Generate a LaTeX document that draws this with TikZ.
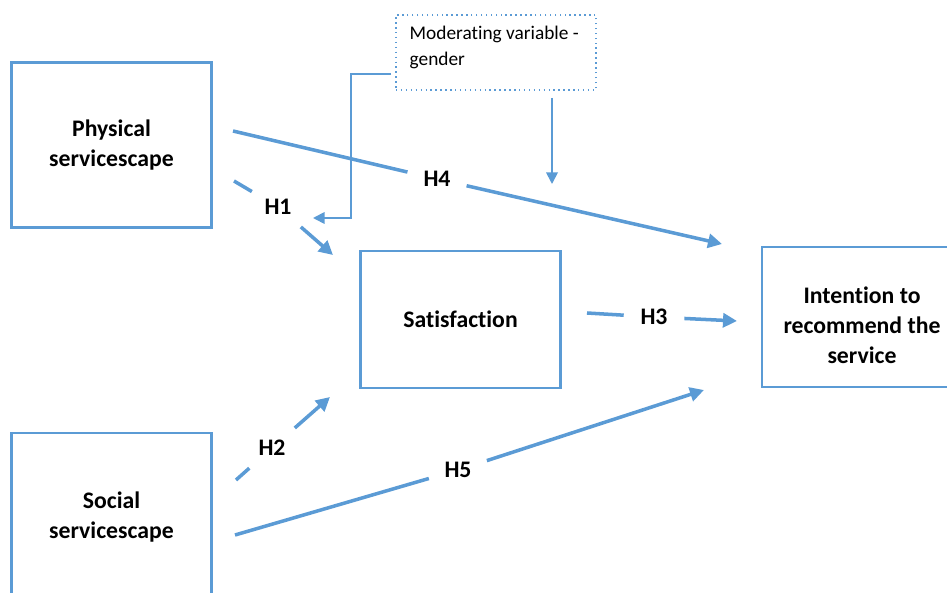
\documentclass[tikz,border=0pt]{standalone}
\usepackage{fontspec}
\setmainfont{Carlito}[Ligatures=NoCommon]
\usetikzlibrary{arrows.meta}
\definecolor{lineblue}{RGB}{91,155,213}

\begin{document}
\begin{tikzpicture}[x=0.2mm,y=-0.2mm]
\tikzset{
  varbox/.style={draw=lineblue,line width=1.4pt,minimum width=4cm,align=center,
    font=\bfseries\fontsize{13.5}{17}\selectfont},
  vartext/.style={align=center,font=\bfseries\fontsize{13.5}{17}\selectfont},
  hyp/.style={circle,minimum size=1.2cm,inner sep=0pt,
    font=\bfseries\fontsize{13.5}{17}\selectfont},
  hline/.style={draw=lineblue,line width=2pt},
  harrow/.style={hline,-{Triangle[length=2.8mm,width=2.8mm]}},
  modbox/.style={draw=lineblue,dotted,line width=0.8pt,minimum width=4cm,minimum height=1.5cm},
  modline/.style={draw=lineblue,line width=1pt},
  modarrow/.style={modline,-{Triangle[length=2.3mm,width=2.3mm]}}
}
\useasboundingbox (0,0) rectangle (947,593);
\clip (0,0) rectangle (947,593);

% variables
\node[varbox,minimum height=3.3cm] (phys) at (111.5,145) {Physical\\servicescape};
\node[varbox,minimum height=3.36cm] (social) at (111.5,517) {Social\\servicescape};
\node[varbox,minimum height=2.74cm] (sat) at (460.5,319.5) {Satisfaction};
\node[varbox,minimum height=2.8cm] (intent) at (862,317) {};
\node[vartext] (intenttext) at (862,325) {Intention to\\recommend the\\service};

% moderator
\node[modbox] (mod) at (496,52.5) {};
\node[anchor=base west,align=left,font=\fontsize{11}{15.3}\selectfont] (modtext) at (403.5,66) {Moderating variable -\\gender};

% hypothesis labels
\node[hyp] (h1) at (278,207) {H1};
\node[hyp] (h2) at (272,448) {H2};
\node[hyp] (h3) at (654,317) {H3};
\node[hyp] (h4) at (437,179) {H4};
\node[hyp] (h5) at (458,470) {H5};

% free ends of the arrows
\coordinate (h1start) at (234,181);
\coordinate (h1end) at (333,255);
\coordinate (h2start) at (236,480);
\coordinate (h2end) at (330,397);
\coordinate (h3start) at (587,313);
\coordinate (h3end) at (737,321);
\coordinate (h4start) at (233,131);
\coordinate (h4end) at (722,244);
\coordinate (h5start) at (235,535);
\coordinate (h5end) at (704,390);
\coordinate (modout) at (391,74);
\coordinate (modh1) at (313,218);
\coordinate (modout2) at (552,98);
\coordinate (modh4) at (552,184);

\draw[hline] (h1start) -- (h1);
\draw[harrow] (h1) -- (h1end);
\draw[hline] (h2start) -- (h2);
\draw[harrow] (h2) -- (h2end);
\draw[hline] (h3start) -- (h3);
\draw[harrow] (h3) -- (h3end);
\draw[hline] (h4start) -- (h4);
\draw[harrow] (h4) -- (h4end);
\draw[hline] (h5start) -- (h5);
\draw[harrow] (h5) -- (h5end);

\draw[modarrow] (modout) -- (351,74) -- (351,218) -- (modh1);
\draw[modarrow] (modout2) -- (modh4);
\end{tikzpicture}
\end{document}
